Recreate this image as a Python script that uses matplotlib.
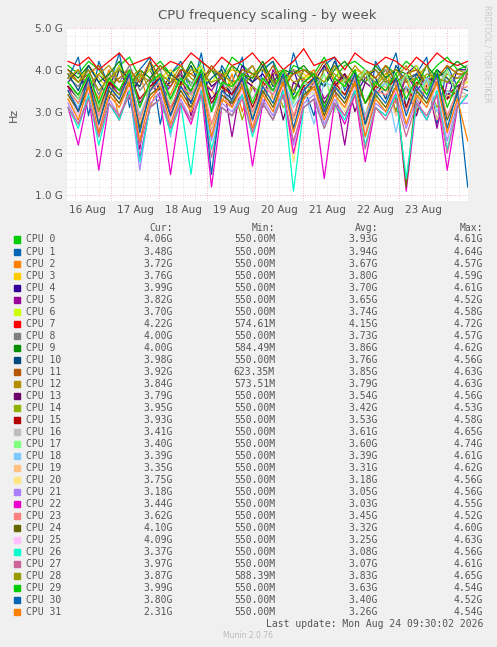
import numpy as np
import matplotlib
matplotlib.use("Agg")
import matplotlib.pyplot as plt

# legend / summary values
cpu_names = ["CPU %d" % i for i in range(32)]
cur = ["4.06G", "3.48G", "3.72G", "3.76G", "3.99G", "3.82G", "3.70G", "4.22G",
       "4.00G", "4.00G", "3.98G", "3.92G", "3.84G", "3.79G", "3.95G", "3.93G",
       "3.41G", "3.40G", "3.39G", "3.35G", "3.75G", "3.18G", "3.44G", "3.62G",
       "4.10G", "4.09G", "3.37G", "3.97G", "3.87G", "3.99G", "3.80G", "2.31G"]
mins = ["550.00M"] * 32
mins[7] = "574.61M"; mins[9] = "584.49M"; mins[11] = "623.35M"
mins[12] = "573.51M"; mins[28] = "588.39M"
avg = ["3.93G", "3.94G", "3.67G", "3.80G", "3.70G", "3.65G", "3.74G", "4.15G",
       "3.73G", "3.86G", "3.76G", "3.85G", "3.79G", "3.54G", "3.42G", "3.53G",
       "3.61G", "3.60G", "3.39G", "3.31G", "3.18G", "3.05G", "3.03G", "3.45G",
       "3.32G", "3.25G", "3.08G", "3.07G", "3.83G", "3.63G", "3.40G", "3.26G"]
maxs = ["4.61G", "4.64G", "4.57G", "4.59G", "4.61G", "4.52G", "4.58G", "4.72G",
        "4.57G", "4.62G", "4.56G", "4.63G", "4.63G", "4.56G", "4.53G", "4.58G",
        "4.65G", "4.74G", "4.61G", "4.62G", "4.56G", "4.56G", "4.55G", "4.52G",
        "4.60G", "4.63G", "4.56G", "4.61G", "4.65G", "4.54G", "4.52G", "4.54G"]
colors = ["#00CC00", "#0066B3", "#FF8000", "#FFCC00", "#330099", "#990099", "#CCFF00", "#FF0000",
          "#808080", "#008F00", "#00487D", "#B35A00", "#B38F00", "#6B006B", "#8FB300", "#B30000",
          "#BEBEBE", "#80FF80", "#80C9FF", "#FFC080", "#FFE680", "#AA80FF", "#EE00CC", "#FF8080",
          "#666600", "#FFBFFF", "#00FFCC", "#CC6699", "#999900", "#00CC00", "#0066B3", "#FF8000"]

# frequency samples (tenths of GHz), 40 per CPU, estimated from the plot
samples = [
    "41 39 42 40 37 41 43 38 40 42 39 41 36 42 40 38 43 41 39 40 42 37 41 40 39 43 38 41 42 40 36 41 39 42 40 38 41 43 40 41",
    "38 43 29 42 36 44 31 40 43 27 39 42 34 44 30 41 37 43 28 40 42 33 44 36 29 41 43 35 40 24 42 38 44 31 39 43 27 41 36 35",
    "35 30 38 33 40 28 36 39 31 37 34 40 29 38 35 32 39 30 37 41 33 36 28 38 40 31 35 39 34 29 37 40 32 38 30 36 39 33 37 37",
    "39 37 41 38 35 40 39 36 41 38 40 37 39 41 36 38 40 39 37 41 38 35 40 39 37 41 38 36 40 39 38 41 37 39 40 36 38 41 39 38",
    "37 40 34 39 36 41 33 38 40 35 37 39 32 40 36 38 34 41 37 39 35 38 40 33 37 41 36 39 34 38 40 37 35 39 41 36 38 33 40 40",
    "36 30 39 25 37 34 40 21 38 33 36 40 29 37 35 39 24 38 36 31 40 35 28 37 39 33 36 22 38 40 34 37 30 39 35 38 26 37 36 38",
    "38 40 36 39 37 41 35 38 40 37 39 36 41 38 37 40 36 39 38 41 37 36 40 38 39 37 41 36 38 40 37 39 36 38 41 37 40 38 36 37",
    "42 41 43 40 42 44 41 42 43 40 42 41 44 42 40 43 41 42 44 41 43 40 42 45 41 42 43 40 44 42 41 43 42 40 43 41 44 42 41 42",
    "38 36 40 34 39 37 41 35 38 40 33 39 37 36 40 38 35 39 41 36 38 34 40 37 39 36 41 38 35 39 37 40 36 38 39 35 40 37 38 40",
    "40 38 41 37 39 42 36 40 38 41 39 37 42 38 40 36 41 39 38 42 37 40 39 41 38 36 40 42 39 37 41 38 40 39 36 41 38 40 42 40",
    "39 35 41 37 33 40 38 36 42 34 39 37 41 35 38 40 32 39 37 41 36 38 34 40 39 36 42 37 35 40 38 33 41 37 39 36 40 38 35 40",
    "40 37 39 41 36 38 40 37 42 38 36 40 39 37 41 38 35 40 39 37 41 36 39 40 38 42 37 39 36 40 38 41 37 39 40 36 38 41 39 39",
    "38 40 36 39 41 37 38 40 35 39 37 41 38 36 40 39 37 38 41 36 39 40 37 38 35 40 39 37 41 38 36 39 40 37 38 41 36 39 38 38",
    "36 33 38 30 37 35 39 32 36 38 29 37 35 39 33 36 31 38 36 34 39 28 37 35 38 32 36 39 30 37 35 38 33 36 29 38 37 34 36 38",
    "35 32 37 30 36 34 38 29 35 37 31 36 33 38 30 35 37 28 36 34 37 31 35 33 38 29 36 34 37 32 35 38 30 36 33 37 31 35 34 40",
    "36 34 38 31 37 35 39 33 36 38 30 37 35 39 32 36 34 38 31 37 35 39 33 36 38 30 37 34 39 32 36 35 38 31 37 36 39 33 35 39",
    "37 34 39 32 38 35 40 31 37 39 33 38 36 40 30 37 35 39 33 38 34 40 32 37 36 39 31 38 35 40 33 37 34 39 32 38 36 40 35 34",
    "37 33 39 31 38 35 40 26 37 39 32 38 34 41 30 37 36 39 28 38 35 40 32 37 34 39 30 38 36 40 33 37 35 39 31 38 34 40 33 34",
    "35 31 37 26 36 33 38 29 35 37 24 36 34 38 30 35 32 37 28 36 34 38 31 35 27 37 36 33 38 29 35 37 25 36 34 38 30 35 33 34",
    "34 30 36 28 35 32 37 27 34 36 30 35 33 37 26 34 31 36 29 35 33 37 28 34 36 30 35 32 37 27 34 36 29 35 31 37 28 34 33 34",
    "33 29 35 27 34 31 36 25 33 35 28 34 30 36 26 33 31 35 27 34 32 36 18 33 35 28 34 30 36 26 33 31 35 27 34 32 36 25 33 38",
    "32 27 34 24 33 29 35 16 32 34 26 33 28 35 23 32 30 34 25 33 29 35 22 32 34 27 33 29 35 24 32 30 34 26 33 28 35 23 32 32",
    "31 22 34 16 32 28 35 19 31 33 15 32 27 35 12 31 29 34 17 32 28 35 20 31 33 14 32 27 34 18 31 29 35 11 32 28 34 16 31 34",
    "35 32 37 29 36 33 38 28 35 37 31 36 34 38 27 35 33 37 30 36 34 38 29 35 37 31 36 33 38 28 35 34 37 30 36 33 38 29 35 36",
    "34 30 36 27 35 32 37 26 34 36 29 35 31 37 25 34 32 36 28 35 31 37 26 34 36 29 35 32 37 27 34 31 36 12 35 32 37 28 34 41",
    "33 29 35 26 34 31 36 24 33 35 28 34 30 36 25 33 31 35 27 34 30 36 26 33 35 28 34 31 36 25 33 30 35 27 34 31 36 24 33 41",
    "31 26 34 22 32 28 35 18 31 33 25 32 15 35 21 31 29 34 24 32 28 35 11 31 33 26 32 28 35 22 31 29 34 14 32 28 35 21 31 34",
    "31 27 33 24 32 29 34 22 31 33 26 32 28 34 19 31 29 33 25 32 28 34 23 31 33 26 32 29 34 21 31 28 33 24 32 29 34 20 31 40",
    "39 37 40 35 38 40 36 39 37 41 38 36 40 39 37 38 41 36 39 40 37 38 35 40 39 37 41 38 36 39 40 37 38 41 36 39 38 37 40 39",
    "37 34 39 32 38 35 40 31 37 39 33 38 35 40 30 37 36 39 32 38 35 40 33 37 39 31 38 36 40 32 37 35 39 33 38 34 40 31 37 40",
    "35 30 38 27 36 33 39 25 35 38 29 36 32 39 15 35 33 38 28 36 32 39 26 35 38 30 36 33 39 27 35 32 38 29 36 33 39 26 35 12",
    "33 28 36 25 34 31 37 23 33 36 27 34 30 37 24 33 31 36 26 34 30 37 25 33 36 28 34 31 37 24 33 30 36 27 34 31 37 25 33 23",
]

plt.rcParams["font.family"] = "DejaVu Sans"
fig = plt.figure(figsize=(4.97, 6.47), dpi=100, facecolor="#F0F0F0")
ax = fig.add_axes([0.135, 0.689, 0.807, 0.268], facecolor="white")

for i, s in enumerate(samples):
    vals = np.array([int(v) for v in s.split()]) / 10.0
    t = np.linspace(0.1, 8.43, len(vals))
    ax.plot(t, vals, color=colors[i], lw=0.9)

ax.set_xlim(0.08, 8.44)
ax.set_ylim(0.86, 5.0)
for d in range(1, 9):
    ax.axvline(d, color="#E0A0A0", ls=(0, (1, 2)), lw=0.6, zorder=0)
for q in np.arange(0.25, 8.44, 0.25):
    if abs(q - round(q)) > 0.01:
        ax.axvline(q, color="#D0D0D0", ls=(0, (1, 2)), lw=0.5, zorder=0)
for g in np.arange(1.0, 5.01, 0.2):
    if abs(g - round(g)) < 0.01:
        ax.axhline(g, color="#E0A0A0", ls=(0, (1, 2)), lw=0.6, zorder=0)
    else:
        ax.axhline(g, color="#D0D0D0", ls=(0, (1, 2)), lw=0.5, zorder=0)

ax.set_xticks(np.arange(0.5, 8, 1))
ax.set_xticklabels(["16 Aug", "17 Aug", "18 Aug", "19 Aug", "20 Aug", "21 Aug", "22 Aug", "23 Aug"])
ax.set_yticks([1, 2, 3, 4, 5])
ax.set_yticklabels(["1.0 G", "2.0 G", "3.0 G", "4.0 G", "5.0 G"])
ax.tick_params(length=0, labelsize=7.5, colors="#555555", pad=3)
for sp in ax.spines.values():
    sp.set_visible(False)
ax.set_ylabel("Hz", fontsize=8, color="#555555", labelpad=12)
ax.set_title("CPU frequency scaling - by week", fontsize=9.5, color="#555555", pad=6)

fig.text(487 / 497, 1 - 5 / 647, "RRDTOOL / TOBI OETIKER", rotation=270, fontsize=5.5,
         color="#C8C8C8", ha="center", va="top")

W, H = 497.0, 647.0
mono = "DejaVu Sans Mono"
fs = 7
tc = "#555555"
hy = 1 - 228 / H
fig.text(173 / W, hy, "Cur:", family=mono, fontsize=fs, color=tc, ha="right", va="center")
fig.text(275 / W, hy, "Min:", family=mono, fontsize=fs, color=tc, ha="right", va="center")
fig.text(378 / W, hy, "Avg:", family=mono, fontsize=fs, color=tc, ha="right", va="center")
fig.text(483 / W, hy, "Max:", family=mono, fontsize=fs, color=tc, ha="right", va="center")
for i in range(32):
    y = 1 - (239.5 + i * 12.03) / H
    fig.patches.append(plt.Rectangle((14 / W, y - 3 / H), 6 / W, 6 / H, color=colors[i],
                                     transform=fig.transFigure, figure=fig))
    fig.text(26 / W, y, cpu_names[i], family=mono, fontsize=fs, color=tc, va="center")
    fig.text(173 / W, y, cur[i], family=mono, fontsize=fs, color=tc, ha="right", va="center")
    fig.text(275 / W, y, mins[i], family=mono, fontsize=fs, color=tc, ha="right", va="center")
    fig.text(378 / W, y, avg[i], family=mono, fontsize=fs, color=tc, ha="right", va="center")
    fig.text(483 / W, y, maxs[i], family=mono, fontsize=fs, color=tc, ha="right", va="center")

fig.text(483 / W, 1 - 624 / H, "Last update: Mon Aug 24 09:30:02 2026", family=mono,
         fontsize=fs, color=tc, ha="right", va="center")
fig.text(248 / W, 1 - 636 / H, "Munin 2.0.76", fontsize=5.5, color="#BBBBBB", ha="center", va="center")

fig.savefig("out.png", dpi=100, facecolor=fig.get_facecolor())
